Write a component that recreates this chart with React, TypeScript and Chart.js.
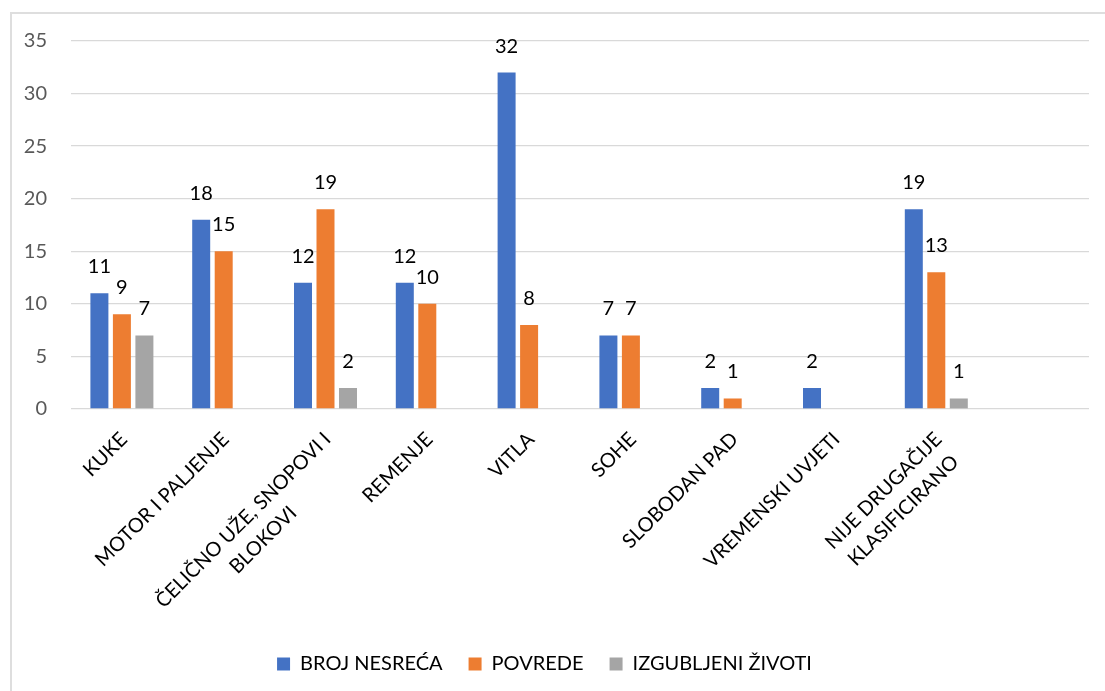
import React, { useEffect, useRef } from "react";
import { Chart, registerables } from "chart.js";

Chart.register(...registerables);

const categories: string[][] = [
  ["KUKE"],
  ["MOTOR I PALJENJE"],
  ["ČELIČNO UŽE, SNOPOVI I", "BLOKOVI"],
  ["REMENJE"],
  ["VITLA"],
  ["SOHE"],
  ["SLOBODAN PAD"],
  ["VREMENSKI UVJETI"],
  ["NIJE DRUGAČIJE", "KLASIFICIRANO"],
  [""],
];

const brojNesreca: (number | null)[] = [11, 18, 12, 12, 32, 7, 2, 2, 19, null];
const povrede: (number | null)[] = [9, 15, 19, 10, 8, 7, 1, null, 13, null];
const izgubljeniZivoti: (number | null)[] = [7, null, 2, null, null, null, null, null, 1, null];

const seriesNames = ["BROJ NESREĆA", "POVREDE", "IZGUBLJENI ŽIVOTI"];
const yTicks = [0, 5, 10, 15, 20, 25, 30, 35];

const FONT = "Lato";
const FS = 20;

const valueLabelPlugin = {
  id: "valueLabels",
  afterDatasetsDraw(chart: any) {
    const ctx = chart.ctx;
    ctx.save();
    ctx.font = `${FS}px ${FONT}`;
    ctx.fillStyle = "#000000";
    ctx.textAlign = "center";
    ctx.textBaseline = "alphabetic";
    chart.data.datasets.forEach((ds: any, di: number) => {
      const meta = chart.getDatasetMeta(di);
      meta.data.forEach((el: any, i: number) => {
        const v = ds.data[i];
        if (v === null || v === undefined) return;
        ctx.fillText(String(v), el.x, el.y - 20);
      });
    });
    ctx.restore();
  },
};

const categoryLabelPlugin = {
  id: "categoryLabels",
  afterDraw(chart: any) {
    const ctx = chart.ctx;
    const xs = chart.scales.x;
    const baseY = chart.chartArea.bottom + 27;
    ctx.save();
    ctx.font = `${FS}px ${FONT}`;
    ctx.fillStyle = "#000000";
    (chart.data.labels as string[][]).forEach((lines, i) => {
      const x = xs.getPixelForValue(i);
      const widths = lines.map((l) => ctx.measureText(l).width);
      const W = Math.max(...widths);
      ctx.save();
      ctx.translate(x + 2, baseY);
      ctx.rotate(-Math.PI / 4);
      ctx.textAlign = "center";
      ctx.textBaseline = "middle";
      lines.forEach((l, j) => {
        ctx.fillText(l, -W / 2, j * 28);
      });
      ctx.restore();
    });
    ctx.restore();
  },
};

export default function App() {
  const canvasRef = useRef<HTMLCanvasElement | null>(null);

  useEffect(() => {
    if (!canvasRef.current) return;
    Chart.defaults.font.family = FONT;
    const chart = new Chart(canvasRef.current, {
      type: "bar",
      data: {
        labels: categories as any,
        datasets: [
          { label: seriesNames[0], data: brojNesreca, backgroundColor: "#4472C4" },
          { label: seriesNames[1], data: povrede, backgroundColor: "#ED7D31" },
          { label: seriesNames[2], data: izgubljeniZivoti, backgroundColor: "#A5A5A5" },
        ],
      },
      options: {
        animation: false,
        responsive: true,
        maintainAspectRatio: false,
        layout: { padding: { top: 41, right: 16, bottom: 7, left: 0 } },
        datasets: {
          bar: { categoryPercentage: 0.663, barPercentage: 0.8 },
        },
        scales: {
          x: {
            grid: { display: false },
            border: { display: false },
            ticks: { display: false },
            afterFit: (scale: any) => {
              scale.height = 219;
            },
          },
          y: {
            min: 0,
            max: 35,
            afterBuildTicks: (scale: any) => {
              scale.ticks = yTicks.map((v) => ({ value: v }));
            },
            grid: { color: "#d9d9d9", lineWidth: 1.3, drawTicks: false },
            border: { display: false },
            ticks: {
              color: "#595959",
              font: { size: FS, family: FONT },
              padding: 24,
            },
            afterFit: (scale: any) => {
              scale.width = 71;
            },
          },
        },
        plugins: {
          legend: {
            position: "bottom",
            labels: {
              boxWidth: 13,
              boxHeight: 13,
              padding: 26,
              color: "#000000",
              font: { size: FS, family: FONT },
            },
          },
          tooltip: { enabled: false },
        },
      },
      plugins: [valueLabelPlugin, categoryLabelPlugin],
    });
    let alive = true;
    if ((document as any).fonts && (document as any).fonts.ready) {
      (document as any).fonts.ready.then(() => {
        if (alive) chart.update();
      });
    }
    return () => {
      alive = false;
      chart.destroy();
    };
  }, []);

  return (
    <div
      style={{
        position: "fixed",
        left: 0,
        top: 0,
        width: 1105,
        height: 691,
        overflow: "hidden",
        background: "#ffffff",
      }}
    >
      <div
        style={{
          position: "absolute",
          left: 10,
          top: 12,
          width: 1200,
          height: 800,
          border: "2px solid #dedede",
          boxSizing: "border-box",
        }}
      />
      <div style={{ position: "absolute", left: 0, top: 0, width: 1105, height: 691 }}>
        <canvas ref={canvasRef} />
      </div>
    </div>
  );
}
